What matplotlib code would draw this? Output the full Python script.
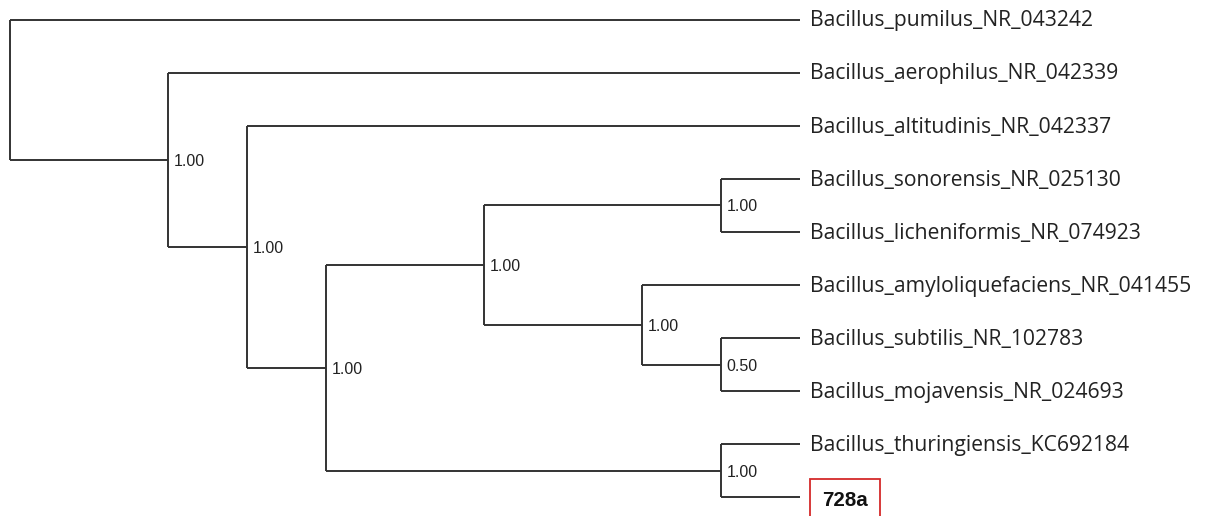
import matplotlib.pyplot as plt

# tip order, top to bottom
leaves = [
    "Bacillus_pumilus_NR_043242",
    "Bacillus_aerophilus_NR_042339",
    "Bacillus_altitudinis_NR_042337",
    "Bacillus_sonorensis_NR_025130",
    "Bacillus_licheniformis_NR_074923",
    "Bacillus_amyloliquefaciens_NR_041455",
    "Bacillus_subtilis_NR_102783",
    "Bacillus_mojavensis_NR_024693",
    "Bacillus_thuringiensis_KC692184",
    "728a",
]
query = "728a"
leaf_depth = 10

# internal nodes: children, depth (cladogram units) and posterior support
children = {
    "n0": ["Bacillus_pumilus_NR_043242", "n1"],
    "n1": ["Bacillus_aerophilus_NR_042339", "n2"],
    "n2": ["Bacillus_altitudinis_NR_042337", "n3"],
    "n3": ["n4", "n8"],
    "n4": ["n5", "n6"],
    "n5": ["Bacillus_sonorensis_NR_025130", "Bacillus_licheniformis_NR_074923"],
    "n6": ["Bacillus_amyloliquefaciens_NR_041455", "n7"],
    "n7": ["Bacillus_subtilis_NR_102783", "Bacillus_mojavensis_NR_024693"],
    "n8": ["Bacillus_thuringiensis_KC692184", "728a"],
}
depth = {"n0": 0, "n1": 2, "n2": 3, "n3": 4, "n4": 6,
         "n5": 9, "n6": 8, "n7": 9, "n8": 9}
support = {"n1": "1.00", "n2": "1.00", "n3": "1.00", "n4": "1.00",
           "n5": "1.00", "n6": "1.00", "n7": "0.50", "n8": "1.00"}

line_col = "#333333"

fig = plt.figure(figsize=(12.05, 5.16), dpi=100)
ax = fig.add_axes([0, 0, 1, 1])
ax.set_xlim(-10 / 79, 1195 / 79)
ax.set_ylim(496.5 / 53.1, -19.5 / 53.1)
ax.axis("off")

pos = {}


def place(name):
    if name not in children:
        pos[name] = (leaf_depth, leaves.index(name))
        return pos[name]
    ys = [place(c)[1] for c in children[name]]
    pos[name] = (depth[name], sum(ys) / len(ys))
    return pos[name]


place("n0")

for node, kids in children.items():
    x0, y0 = pos[node]
    ky = [pos[k][1] for k in kids]
    ax.plot([x0, x0], [min(ky), max(ky)], color=line_col, lw=1.4,
            solid_capstyle="butt")
    for k in kids:
        ax.plot([x0, pos[k][0]], [pos[k][1], pos[k][1]], color=line_col,
                lw=1.4, solid_capstyle="butt")
    if node in support:
        ax.annotate(support[node], (x0, y0), xytext=(4, -1),
                    textcoords="offset points", va="center", ha="left",
                    fontsize=11.5, family="Liberation Sans", color="#222222")

for name in leaves:
    x, y = pos[name]
    if name == query:
        ax.annotate(name, (x, y), xytext=(16, -2.5), textcoords="offset points",
                    va="center", ha="left", fontsize=14.8, fontweight="bold",
                    family="Liberation Sans", color="#111111",
                    bbox=dict(boxstyle="square,pad=0.6", fc="white",
                              ec="#d42a2a", lw=1.3))
    else:
        ax.annotate(name, (x, y), xytext=(7, -1), textcoords="offset points",
                    va="center", ha="left", fontsize=15.2, family="Open Sans",
                    color="#222222")

fig.savefig("out.png", dpi=100)
